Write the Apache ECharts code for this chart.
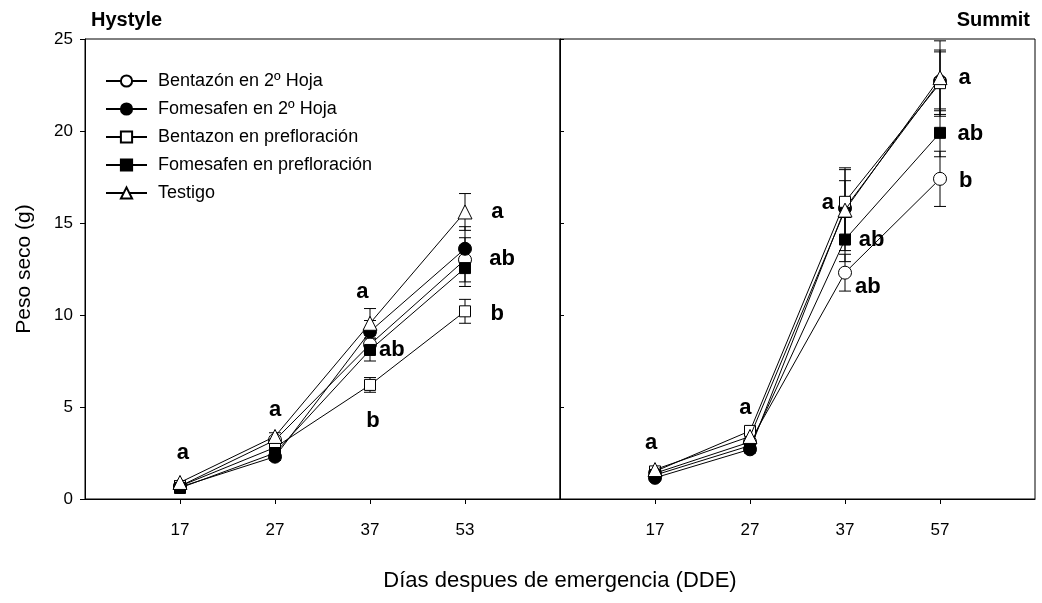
<!DOCTYPE html>
<html>
<head>
<meta charset="utf-8">
<script src="https://cdn.jsdelivr.net/npm/echarts@6/dist/echarts.min.js"></script>
<style>
html,body{margin:0;padding:0;background:#fff;}
#chart{width:1042px;height:603px;}
</style>
</head>
<body>
<div id="chart"></div>
<script>
// ---- Data ----
var seriesNames = ['Bentazón en 2º Hoja', 'Fomesafen en 2º Hoja', 'Bentazon en prefloración', 'Fomesafen en prefloración', 'Testigo'];
var hystyleDays = ['17', '27', '37', '53'];
var summitDays = ['17', '27', '37', '57'];
var yTicks = [0, 5, 10, 15, 20, 25];

// Hystyle panel (mean, error)
var hBentazon2 = [0.70, 3.20, 8.40, 13.00];
var hFomesafen2 = [0.65, 2.30, 9.10, 13.60];
var hBentazonPre = [0.70, 2.80, 6.20, 10.20];
var hFomesafenPre = [0.60, 2.50, 8.10, 12.55];
var hTestigo = [0.90, 3.40, 9.55, 15.60];
var hBentazon2Err = [0.10, 0.20, 0.50, 1.20];
var hFomesafen2Err = [0.10, 0.20, 0.60, 1.20];
var hBentazonPreErr = [0.10, 0.20, 0.40, 0.65];
var hFomesafenPreErr = [0.10, 0.20, 0.60, 1.00];
var hTestigoErr = [0.10, 0.20, 0.80, 1.00];

// Summit panel (mean, error)
var sBentazon2 = [1.40, 3.10, 12.30, 17.40];
var sFomesafen2 = [1.15, 2.70, 15.80, 22.70];
var sBentazonPre = [1.50, 3.70, 16.15, 22.60];
var sFomesafenPre = [1.30, 2.90, 14.10, 19.90];
var sTestigo = [1.60, 3.40, 15.70, 22.90];
var sBentazon2Err = [0.10, 0.20, 1.00, 1.50];
var sFomesafen2Err = [0.10, 0.20, 1.50, 1.60];
var sBentazonPreErr = [0.10, 0.20, 1.85, 1.80];
var sFomesafenPreErr = [0.10, 0.20, 1.20, 1.30];
var sTestigoErr = [0.10, 0.20, 2.20, 2.00];

// Significance letters: [x position (day index), y value, letter]
var hLetters = [[1.03, 2.5, 'a'], [2.0, 4.85, 'a'], [2.92, 11.25, 'a'], [3.23, 8.1, 'ab'], [3.03, 4.25, 'b'],
                [4.34, 15.6, 'a'], [4.39, 13.05, 'ab'], [4.34, 10.05, 'b']];
var sLetters = [[0.96, 3.05, 'a'], [1.95, 4.95, 'a'], [2.82, 16.1, 'a'], [3.28, 14.1, 'ab'], [3.24, 11.5, 'ab'],
                [4.26, 22.9, 'a'], [4.32, 19.85, 'ab'], [4.27, 17.3, 'b']];

// ---- Build ----
var FONT = 'Liberation Sans, Arial, sans-serif';
var symbols = [
  {symbol: 'circle', size: 13, fill: '#fff'},
  {symbol: 'circle', size: 13, fill: '#000'},
  {symbol: 'rect', size: 11, fill: '#fff'},
  {symbol: 'rect', size: 11, fill: '#000'},
  {symbol: 'triangle', size: 14, fill: '#fff'}
];
var hMeans = [hBentazon2, hFomesafen2, hBentazonPre, hFomesafenPre, hTestigo];
var hErrs = [hBentazon2Err, hFomesafen2Err, hBentazonPreErr, hFomesafenPreErr, hTestigoErr];
var sMeans = [sBentazon2, sFomesafen2, sBentazonPre, sFomesafenPre, sTestigo];
var sErrs = [sBentazon2Err, sFomesafen2Err, sBentazonPreErr, sFomesafenPreErr, sTestigoErr];

function xAxisFor(idx, labels) {
  return {
    type: 'value', gridIndex: idx, min: 0, max: 5, interval: 1,
    axisLine: {show: true, lineStyle: {color: '#000', width: 1}},
    axisTick: {show: true, length: 5, customValues: [1, 2, 3, 4], lineStyle: {color: '#000'}},
    axisLabel: {show: true, customValues: [1, 2, 3, 4], formatter: function (v) { return labels[v - 1] || ''; },
      color: '#000', fontSize: 17, fontFamily: FONT, margin: 23},
    splitLine: {show: false}
  };
}

var series = [];
function addPanel(gi, means, errs) {
  var errData = [];
  means.forEach(function (arr, si) {
    arr.forEach(function (v, i) { errData.push([i + 1, v - errs[si][i], v + errs[si][i]]); });
  });
  series.push({
    type: 'custom', xAxisIndex: gi, yAxisIndex: gi, silent: true, z: 1,
    data: errData,
    renderItem: function (params, api) {
      var lo = api.coord([api.value(0), api.value(1)]);
      var hi = api.coord([api.value(0), api.value(2)]);
      var hw = 6;
      var st = {stroke: '#000', lineWidth: 1, fill: null};
      return {type: 'group', children: [
        {type: 'line', shape: {x1: lo[0], y1: lo[1], x2: hi[0], y2: hi[1]}, style: st},
        {type: 'line', shape: {x1: lo[0] - hw, y1: lo[1], x2: lo[0] + hw, y2: lo[1]}, style: st},
        {type: 'line', shape: {x1: hi[0] - hw, y1: hi[1], x2: hi[0] + hw, y2: hi[1]}, style: st}
      ]};
    }
  });
  means.forEach(function (arr, si) {
    series.push({
      name: seriesNames[si], type: 'line', xAxisIndex: gi, yAxisIndex: gi, z: 3 + si,
      data: arr.map(function (v, i) { return [i + 1, v]; }),
      symbol: symbols[si].symbol, symbolSize: symbols[si].size, showAllSymbol: true,
      lineStyle: {color: '#000', width: 1},
      itemStyle: {color: symbols[si].fill, borderColor: '#000', borderWidth: 1},
      emphasis: {disabled: true}, animation: false
    });
  });
}
addPanel(0, hMeans, hErrs);
addPanel(1, sMeans, sErrs);

function letterSeries(gi, letters) {
  return {
    type: 'scatter', xAxisIndex: gi, yAxisIndex: gi, z: 20, silent: true,
    symbol: 'circle', symbolSize: 0, itemStyle: {color: '#000', opacity: 1},
    data: letters,
    label: {show: true, position: 'inside', formatter: function (p) { return p.data[2]; },
      color: '#000', fontSize: 22, fontWeight: 'bold', fontFamily: FONT, textBorderWidth: 0, opacity: 1}
  };
}
series.push(letterSeries(0, hLetters));
series.push(letterSeries(1, sLetters));

var option = {
  animation: false,
  backgroundColor: '#fff',
  textStyle: {fontFamily: FONT},
  title: [
    {text: 'Hystyle', left: 86, top: 5, textStyle: {fontSize: 20, fontWeight: 'bold', color: '#000', fontFamily: FONT}},
    {text: 'Summit', right: 7, top: 5, textStyle: {fontSize: 20, fontWeight: 'bold', color: '#000', fontFamily: FONT}}
  ],
  legend: {
    orient: 'vertical', left: 100, top: 67, itemWidth: 41, itemHeight: 14, itemGap: 10,
    data: seriesNames,
    textStyle: {fontSize: 18, color: '#000', fontFamily: FONT, padding: [0, 0, 0, 6]},
    selectedMode: false
  },
  grid: [
    {left: 85, top: 39, width: 475, height: 460, show: true, borderColor: '#000', borderWidth: 1, backgroundColor: 'transparent'},
    {left: 560, top: 39, width: 475, height: 460, show: true, borderColor: '#000', borderWidth: 1, backgroundColor: 'transparent'}
  ],
  xAxis: [xAxisFor(0, hystyleDays), xAxisFor(1, summitDays)],
  yAxis: [
    {type: 'value', gridIndex: 0, min: 0, max: 25, interval: 5,
     name: 'Peso seco (g)', nameLocation: 'middle', nameGap: 50,
     nameTextStyle: {fontSize: 21, color: '#000', fontFamily: FONT},
     axisLine: {show: true, lineStyle: {color: '#000'}},
     axisTick: {show: true, length: 5, lineStyle: {color: '#000'}},
     axisLabel: {color: '#000', fontSize: 17, fontFamily: FONT, margin: 12, formatter: function (v) { return yTicks.indexOf(v) >= 0 ? String(v) : ''; }},
     splitLine: {show: false}},
    {type: 'value', gridIndex: 1, min: 0, max: 25, interval: 5,
     axisLine: {show: true, lineStyle: {color: '#000'}},
     axisTick: {show: true, inside: true, length: 4, lineStyle: {color: '#000'}},
     axisLabel: {show: false},
     splitLine: {show: false}}
  ],
  graphic: [
    {type: 'text', x: 560, y: 581, style: {text: 'Días despues de emergencia (DDE)', fontSize: 22, fill: '#000', fontFamily: FONT, textAlign: 'center', textVerticalAlign: 'middle'}}
  ],
  series: series
};

var chart = echarts.init(document.getElementById('chart'), null, {renderer: 'canvas'});
chart.setOption(option);
</script>
</body>
</html>
